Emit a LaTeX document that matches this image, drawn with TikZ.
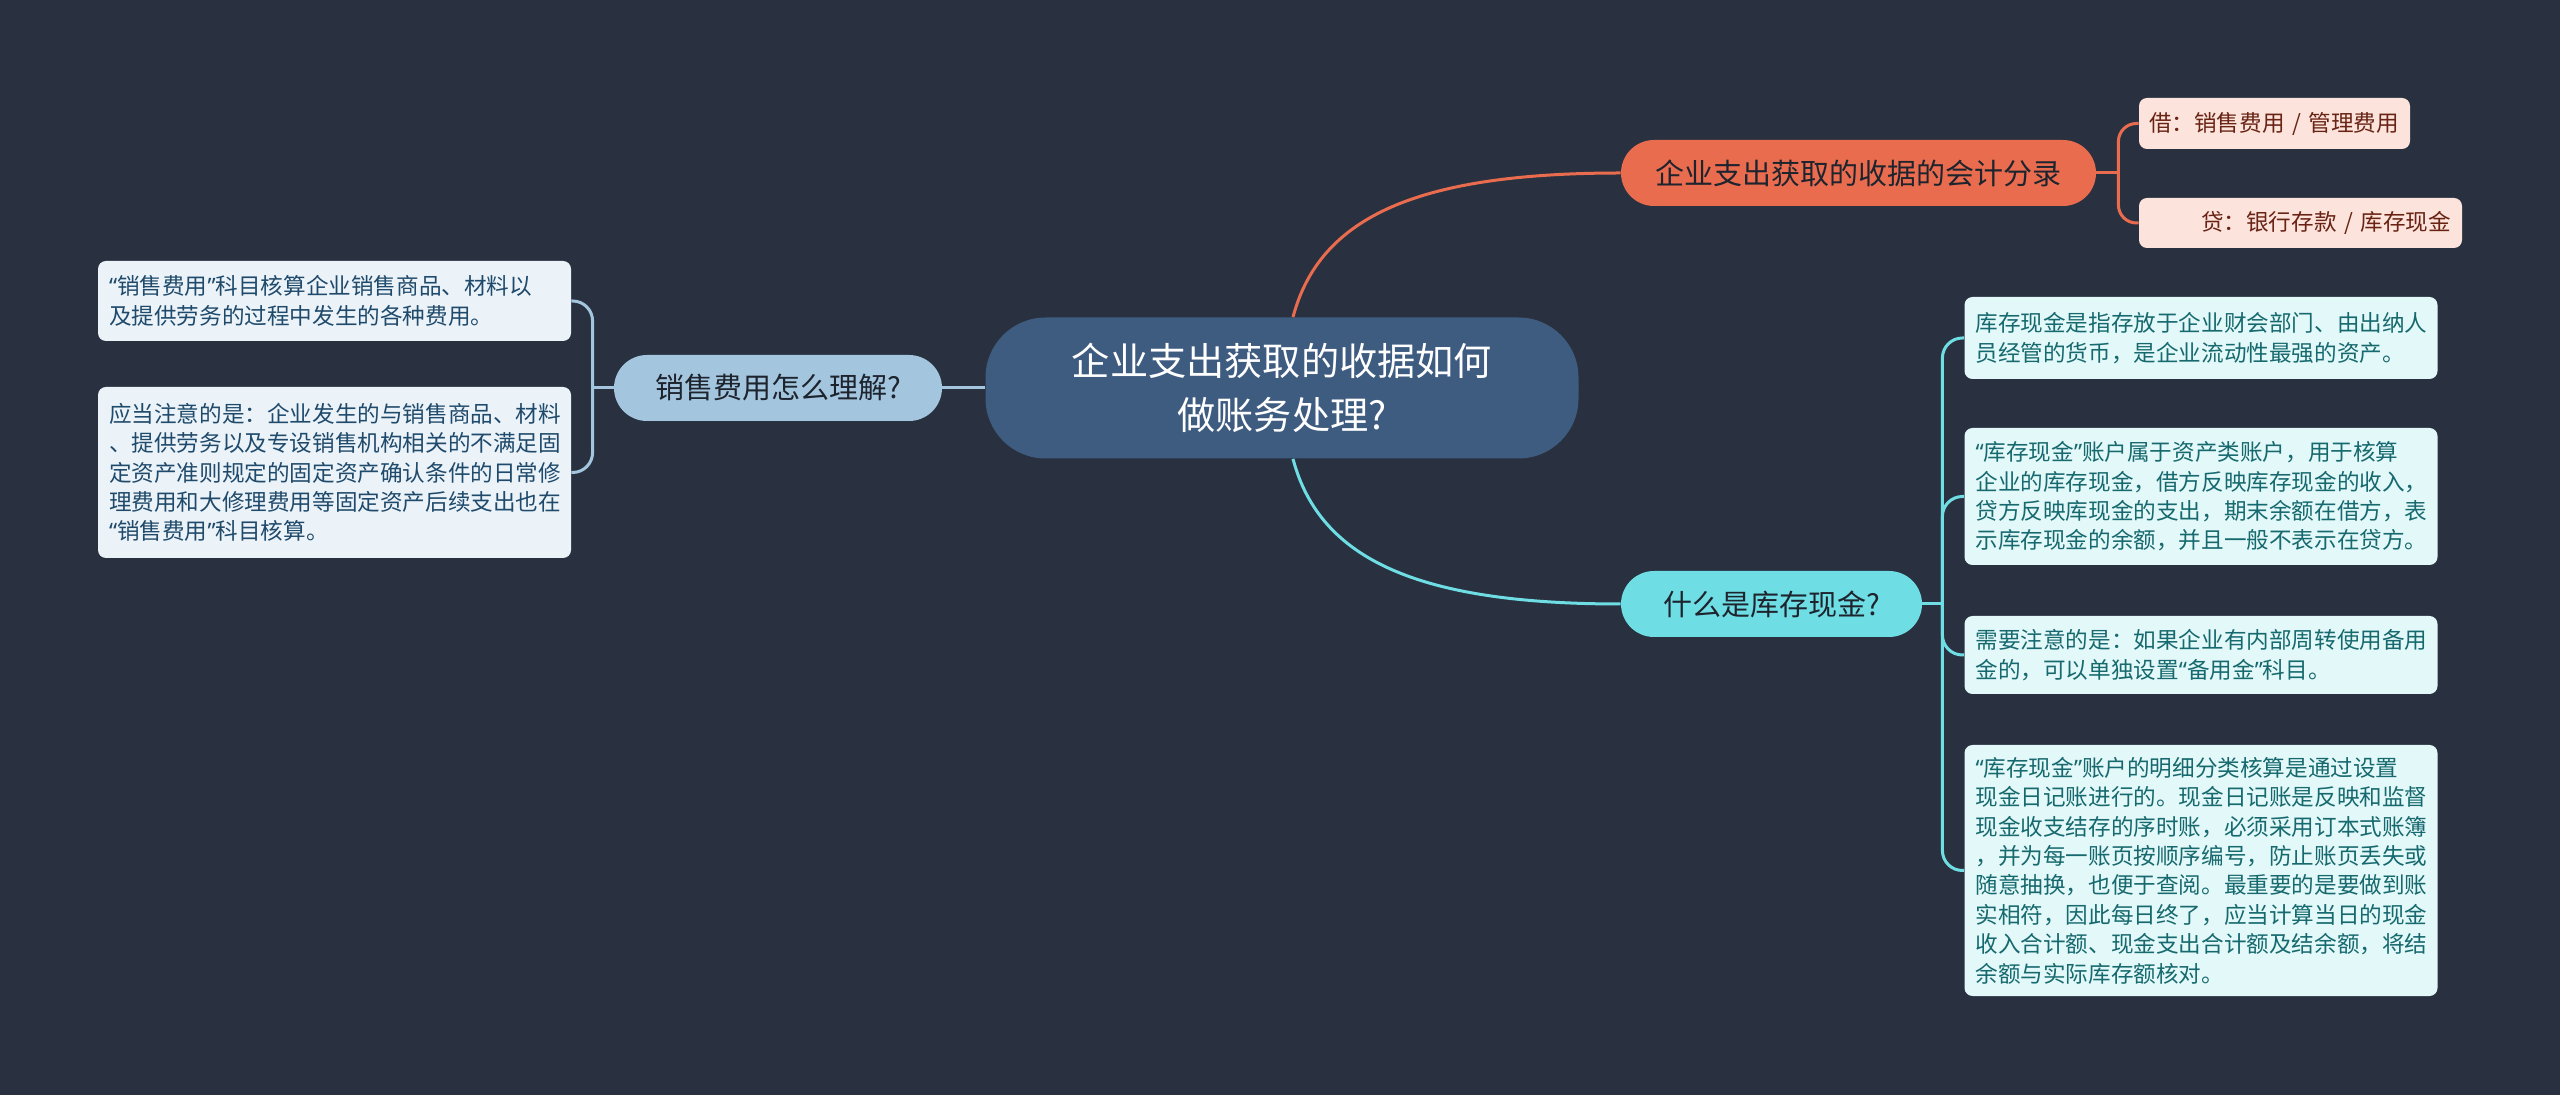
\documentclass[tikz,border=0pt]{standalone}
\usepackage{fontspec}
\setmainfont{Noto Sans CJK SC}
\newfontfamily\qfont{Noto Sans}
\usepackage{tikz}

\definecolor{mapbg}{RGB}{41,49,64}
\definecolor{rootfill}{RGB}{62,91,128}
\definecolor{topictext}{RGB}{30,36,46}
\definecolor{blueline}{RGB}{163,197,222}
\definecolor{blueleaf}{RGB}{235,243,249}
\definecolor{bluetext}{RGB}{32,74,107}
\definecolor{orangeline}{RGB}{234,108,79}
\definecolor{orangeleaf}{RGB}{252,228,220}
\definecolor{orangetext}{RGB}{105,35,20}
\definecolor{cyanline}{RGB}{110,222,228}
\definecolor{cyanleaf}{RGB}{227,248,248}
\definecolor{cyantext}{RGB}{22,105,110}

% narrow quotes, as in the map
\newcommand\quoted[1]{{\qfont“}#1{\qfont”}}

\tikzset{root/.style={fill=rootfill, text=white, rounded corners=30pt,
           minimum width=296.5pt, minimum height=70.5pt, align=center,
           font=\fontsize{19.1pt}{27pt}\selectfont}}
\tikzset{topic/.style={fill=#1line, text=topictext, rounded corners=16.5pt,
           minimum height=33pt, inner sep=0pt,
           font=\fontsize{14.5pt}{17pt}\selectfont},
         topic/.default=cyan}
\tikzset{note/.style={fill=#1leaf, text=#1text, rounded corners=4pt,
           text width=225.5pt, align=left, inner xsep=5.5pt, inner ysep=0pt,
           font=\fontsize{11.3pt}{14.7pt}\selectfont},
         note/.default=cyan}
\tikzset{link/.style={draw=#1line, line width=1.5pt},
         link/.default=cyan}

\begin{document}
\begin{tikzpicture}[x=0.5pt, y=0.5pt]
    \useasboundingbox[fill=mapbg] (0,0) rectangle (2560,-1095);
    % centre
    \node[root] (c) at (1282,-388) {企业支出获取的收据如何\\做账务处理?};
    % three main topics
    \node[topic=blue, minimum width=164pt] (lb) at (778,-388) {销售费用怎么理解?};
    \node[topic=orange, minimum width=237.5pt] (ob) at (1858.5,-173) {企业支出获取的收据的会计分录};
    \node[topic=cyan, minimum width=150.5pt] (cb) at (1771.5,-604) {什么是库存现金?};
    % left notes
    \node[note=blue, minimum height=40pt] (lf1) at (334.5,-301)
      {\quoted{销售费用}科目核算企业销售商品、材料以\\及提供劳务的过程中发生的各种费用。};
    \node[note=blue, minimum height=85.5pt] (lf2) at (334.5,-472.5)
      {应当注意的是：企业发生的与销售商品、材料\\、提供劳务以及专设销售机构相关的不满足固\\定资产准则规定的固定资产确认条件的日常修\\理费用和大修理费用等固定资产后续支出也在\\\quoted{销售费用}科目核算。};
    % entries
    \node[note=orange, text width=125.5pt, inner xsep=5pt, minimum height=25.5pt] (oa) at (2274.5,-123.5)
      {借：销售费用~/~管理费用};
    \node[note=orange, text width=150.5pt, align=right, minimum height=25pt] (oc) at (2300.5,-223)
      {贷：银行存款~/~库存现金};
    % cash notes
    \node[note, minimum height=41pt] (c1) at (2201,-338)
      {库存现金是指存放于企业财会部门、由出纳人\\员经管的货币，是企业流动性最强的资产。};
    \node[note, minimum height=68.5pt] (c2) at (2201,-496.5)
      {\quoted{库存现金}账户属于资产类账户，用于核算\\企业的库存现金，借方反映库存现金的收入，\\贷方反映库现金的支出，期末余额在借方，表\\示库存现金的余额，并且一般不表示在贷方。};
    \node[note, minimum height=39pt] (c3) at (2201,-655)
      {需要注意的是：如果企业有内部周转使用备用\\金的，可以单独设置\quoted{备用金}科目。};
    \node[note, minimum height=125.5pt] (c4) at (2201,-870.5)
      {\quoted{库存现金}账户的明细分类核算是通过设置\\现金日记账进行的。现金日记账是反映和监督\\现金收支结存的序时账，必须采用订本式账簿\\，并为每一账页按顺序编号，防止账页丢失或\\随意抽换，也便于查阅。最重要的是要做到账\\实相符，因此每日终了，应当计算当日的现金\\收入合计额、现金支出合计额及结余额，将结\\余额与实际库存额核对。};

    % links
    \draw[link=blue] (c.west) -- (lb.east);
    \draw[link=blue] (lb.west) -- ++(-21,0) coordinate (lbj);
    \draw[link=blue, rounded corners=10pt] (lbj) |- (lf1.east);
    \draw[link=blue, rounded corners=10pt] (lbj) |- (lf2.east);

    \draw[link=orange] ([xshift=5.5pt]c.north) .. controls +(27,102) and +(-200,0) .. (ob.west);
    \draw[link=orange] (ob.east) -- ++(22,0) coordinate (obj);
    \draw[link=orange, rounded corners=9pt] (obj) |- (oa.west);
    \draw[link=orange, rounded corners=9pt] (obj) |- (oc.west);

    \draw[link] ([xshift=5.5pt]c.south) .. controls +(27,-102) and +(-200,0) .. (cb.west);
    \draw[link] (cb.east) -- ++(20,0) coordinate (cbj);
    \foreach \n in {c1,c2,c3,c4}
      \draw[link, rounded corners=10pt] (cbj) |- (\n.west);
\end{tikzpicture}
\end{document}
